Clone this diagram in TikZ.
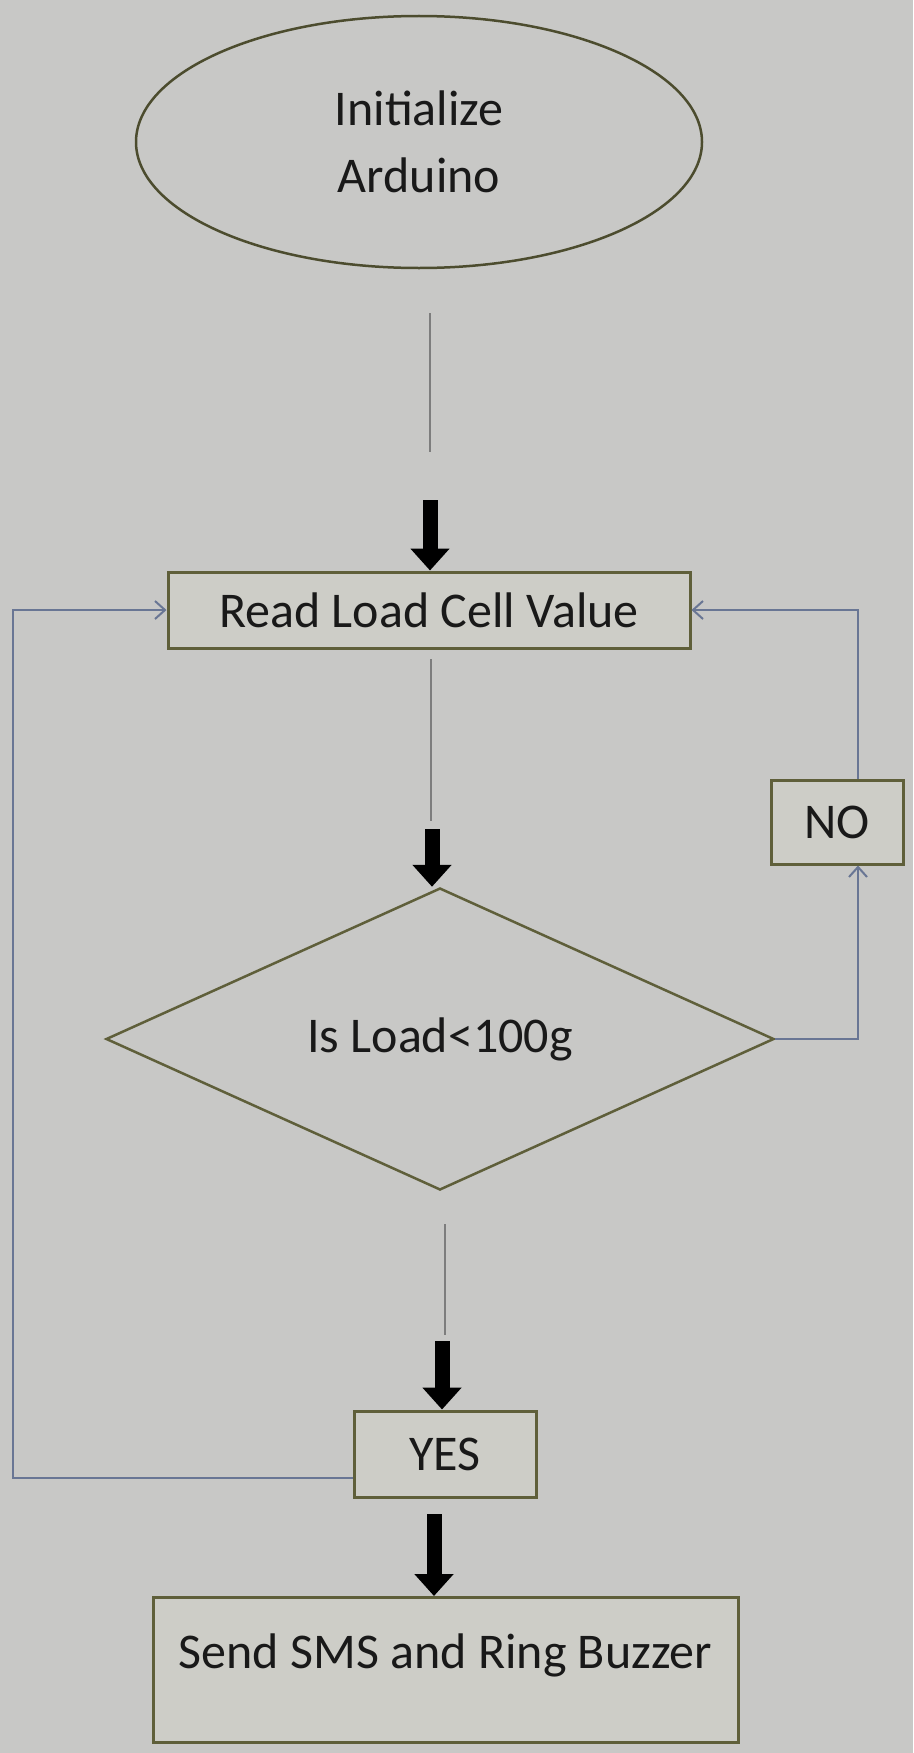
\documentclass[tikz,border=0pt]{standalone}
\usepackage{fontspec}
\setmainfont{Carlito}
\usetikzlibrary{shapes.geometric,arrows.meta}
\definecolor{bg}{RGB}{200,200,198}
\definecolor{boxfill}{RGB}{205,205,199}
\definecolor{olivec}{RGB}{95,95,58}
\definecolor{loopc}{RGB}{105,118,148}
\definecolor{thinc}{RGB}{125,125,125}
\definecolor{txt}{RGB}{25,25,25}
\begin{document}
\begin{tikzpicture}[x=1pt,y=-1pt,
  every node/.style={font=\fontsize{50}{67}\selectfont, text=txt},
  box/.style={draw=olivec, line width=3pt, fill=boxfill, inner sep=0pt},
  thinl/.style={draw=thinc, line width=1.6pt},
  bigarrow/.style={draw=black, line width=15pt, -{Triangle[width=38pt,length=22pt]}},
  loopl/.style={draw=loopc, line width=2pt},
  looparrow/.style={loopl, -{Straight Barb[length=10pt,width=18pt,line width=2pt]}}]
\fill[bg] (0,0) rectangle (913,1753);
\useasboundingbox (0,0) rectangle (913,1753);

\node[ellipse, draw=olivec!80!black, line width=2.5pt, fill=bg, minimum width=566pt, minimum height=252pt, align=center, inner sep=0pt] (init) at (419,142) {Initialize\\Arduino};
\node[box, minimum width=522pt, minimum height=76pt] (read) at (429,610) {Read Load Cell Value};
\node[diamond, draw=olivec, line width=2.5pt, fill=bg, aspect=2.2, minimum width=668pt, minimum height=302pt, inner sep=0pt] (dec) at (440,1039) {Is Load<100g};
\node[box, minimum width=132pt, minimum height=84pt] (no) at (837,822) {NO};
\node[box, minimum width=182pt, minimum height=86pt] (yes) at (445,1454) {YES};
\node[box, minimum width=585pt, minimum height=145pt, text depth=38pt] (send) at (445.5,1670) {Send SMS and Ring Buzzer};

% init -> read
\coordinate (a1) at (430,313);
\coordinate (a2) at (430,452);
\coordinate (a3) at (430,500);
\draw[thinl] (a1) -- (a2);
\draw[bigarrow] (a3) -- (a3 |- read.north);

% read -> decision
\coordinate (b1) at (431,659);
\coordinate (b2) at (431,821);
\coordinate (b3) at (432,829);
\draw[thinl] (b1) -- (b2);
\draw[bigarrow] (b3) -- (b3 |- dec.north);

% decision -> yes
\coordinate (c1) at (445,1224);
\coordinate (c2) at (445,1335);
\coordinate (c3) at (442,1341);
\draw[thinl] (c1) -- (c2);
\draw[bigarrow] (c3) -- (c3 |- yes.north);

% yes -> send
\coordinate (d1) at (434,1514);
\draw[bigarrow] (d1) -- (d1 |- send.north);

% NO loop
\coordinate (r1) at (858,1039);
\draw[looparrow] (dec.east) -- (r1) -- (r1 |- no.south);
\draw[looparrow] (r1 |- no.north) -- (r1 |- read.east) -- (read.east);

% YES loop back
\coordinate (l1) at (13,1478);
\draw[looparrow] (yes.west |- l1) -- (l1) -- (l1 |- read.west) -- (read.west);
\end{tikzpicture}
\end{document}
